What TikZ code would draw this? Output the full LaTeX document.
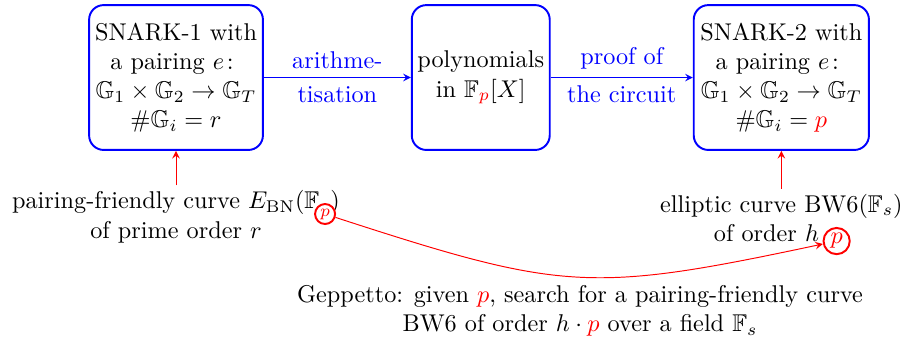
\documentclass[tikz,border=0pt]{standalone}
\usepackage{amsmath}
\usepackage{amssymb}
\usepackage{tikz}
\usetikzlibrary{arrows,positioning}

\begin{document}
\begin{tikzpicture}[->,>=stealth,node distance=2.13cm,
  box/.style={draw=blue,thick,rounded corners=6pt,align=center,minimum height=2.1cm,inner sep=2pt},
  curve/.style={align=center,inner sep=2pt},
  ring/.style={draw=red,thick,circle,fill=white,text=red,inner sep=0pt}]
  \useasboundingbox (0,0) rectangle (13.15,-4.97);

  \node [box,minimum width=2.52cm] (snark1) at (2.552,-1.124)
    {SNARK-1 with\\ a pairing $e\colon$\\ $\mathbb{G}_1\times\mathbb{G}_2\to\mathbb{G}_T$\\ $\#\mathbb{G}_i=r$};
  \node [box,minimum width=2.0cm,right=of snark1] (poly)
    {polynomials\\ in $\mathbb{F}_{\color{red}p}[X]$};
  \node [box,minimum width=2.54cm,right=2.06cm of poly] (snark2)
    {SNARK-2 with\\ a pairing $e\colon$\\ $\mathbb{G}_1\times\mathbb{G}_2\to\mathbb{G}_T$\\ $\#\mathbb{G}_i={\color{red}p}$};

  \node [curve,below=0.5cm of snark1] (bn)
    {pairing-friendly curve $E_{\mathrm{BN}}(\mathbb{F}_{\phantom{p}})$\\ of prime order $r$};
  \node [curve,below=0.55cm of snark2] (bw)
    {elliptic curve BW6$(\mathbb{F}_s)$\\ of order $h\cdot\phantom{p}$};
  \node [curve] (geppetto) at (8.41,-4.51)
    {Geppetto: given ${\color{red}p}$, search for a pairing-friendly curve\\ BW6 of order $h\cdot{\color{red}p}$ over a field $\mathbb{F}_s$};

  % circled p
  \node [ring,minimum size=0.29cm] (pbn) at (4.713,-3.103) {$\scriptstyle p$};
  \node [ring,minimum size=0.38cm] (pbw) at (12.13,-3.495) {$p$};

  \path[->,blue] (snark1) edge node [above] {arithme-} node [below] {tisation} (poly)
        (poly) edge node [above] {proof of} node [below] {the circuit} (snark2);

  \path[->,red] (bn) edge (snark1)
        (bw) edge (snark2)
        (pbn) edge [out=-18,in=192,looseness=1.25] (pbw);
\end{tikzpicture}
\end{document}
